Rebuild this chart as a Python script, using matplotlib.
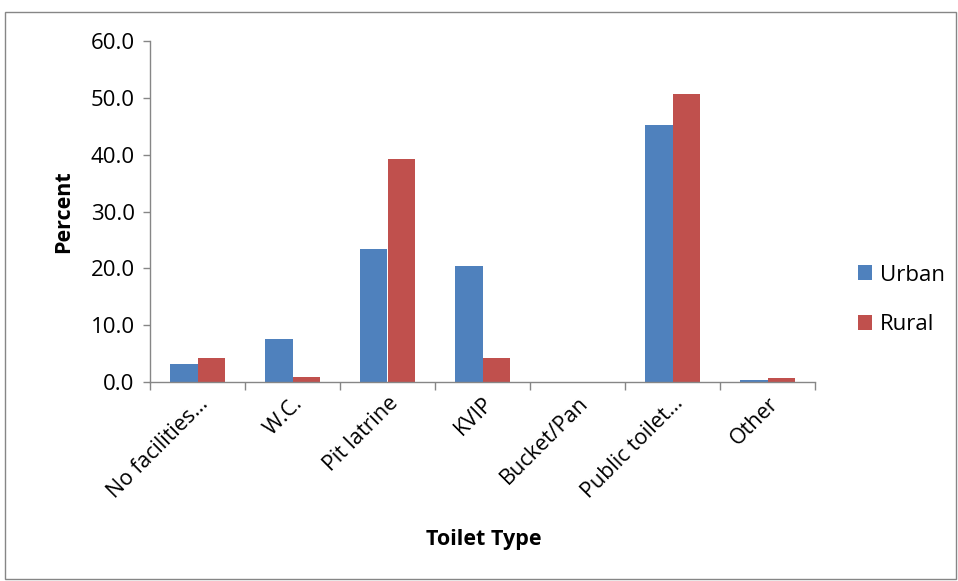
import matplotlib
matplotlib.use("Agg")
import matplotlib.pyplot as plt
import numpy as np
from matplotlib.patches import Rectangle

categories = ["No facilities…", "W.C.", "Pit latrine", "KVIP", "Bucket/Pan", "Public toilet…", "Other"]
urban = [3.2, 7.5, 23.4, 20.4, 0.0, 45.2, 0.35]
rural = [4.2, 0.9, 39.3, 4.3, 0.0, 50.7, 0.7]
yticks = [0, 10, 20, 30, 40, 50, 60]

plt.rcParams['font.family'] = ['Open Sans', 'DejaVu Sans']

W, H = 958, 581
fig = plt.figure(figsize=(W / 100, H / 100), dpi=100)
ax = fig.add_axes([150 / W, (H - 382) / H, (815 - 150) / W, (382 - 41) / H])

# outer chart frame
fig.patches.append(Rectangle((5 / W, 2 / H), (951 / W), (H - 14) / H, transform=fig.transFigure,
                             fill=False, edgecolor="#868686", linewidth=1.0))

x = np.arange(len(categories))
bw = 0.285
ax.bar(x - bw / 2, urban, bw, color="#4F81BD", label="Urban", zorder=2)
ax.bar(x + bw / 2, rural, bw, color="#C0504D", label="Rural", zorder=2)

ax.set_xlim(-0.5, len(categories) - 0.5)
ax.set_ylim(0, 60)
ax.set_yticks(yticks)
ax.set_yticklabels([f"{v:.1f}" for v in yticks], fontsize=16)

# category boundary ticks
ax.set_xticks(np.arange(-0.5, len(categories), 1.0))
ax.set_xticklabels([])
ax.set_xticks(x, minor=True)
ax.set_xticklabels(categories, minor=True, rotation=45, ha="right", va="top",
                   rotation_mode="anchor", fontsize=15.5)
ax.tick_params(axis="x", which="minor", length=0, pad=8)
ax.tick_params(axis="x", which="major", length=6, color="#868686", width=1)
ax.tick_params(axis="y", length=5, color="#868686", width=1, pad=6)

for s in ["top", "right"]:
    ax.spines[s].set_visible(False)
for s in ["left", "bottom"]:
    ax.spines[s].set_color("#868686")
    ax.spines[s].set_linewidth(1)

ax.set_ylabel("Percent", fontsize=15.5, fontweight="bold", labelpad=12)
fig.text(484 / W, 1 - 539 / H, "Toilet Type", fontsize=15.5, fontweight="bold", ha="center", va="center")

ax.legend(loc="center left", bbox_to_anchor=(838 / W, 1 - 300 / H), bbox_transform=fig.transFigure,
          frameon=False, fontsize=16, handlelength=0.65, handleheight=0.65, labelspacing=1.3,
          handletextpad=0.35)

fig.savefig("out.png", dpi=100)
